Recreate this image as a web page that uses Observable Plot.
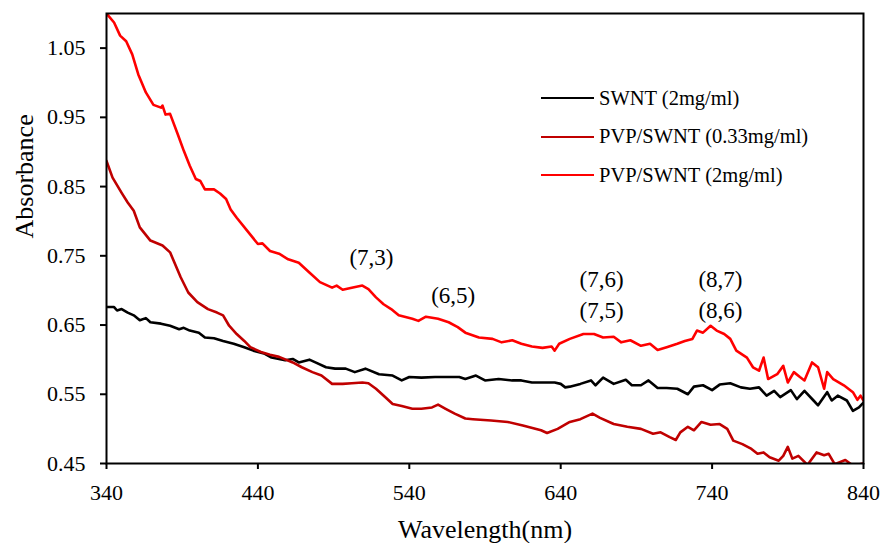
<!DOCTYPE html>
<html>
<head>
<meta charset="utf-8">
<script src="https://cdn.jsdelivr.net/npm/d3@7"></script>
<script src="https://cdn.jsdelivr.net/npm/@observablehq/plot@0.6"></script>
<style>
  html, body { margin: 0; padding: 0; background: #fff; }
  #wrap { position: relative; width: 884px; height: 543px; font-family: "Liberation Serif", "Times New Roman", serif; }
  #legend { position: absolute; left: 541px; top: 79px; }
  .row { display: flex; align-items: center; height: 38.5px; font-size: 20.5px; color: #000; white-space: nowrap; }
  .sw { width: 53px; height: 0; border-top: 2.5px solid; margin-right: 5px; }
</style>
</head>
<body>
<div id="wrap"></div>
<script>
// ---- data ----
const seriesNames = ["SWNT (2mg/ml)", "PVP/SWNT (0.33mg/ml)", "PVP/SWNT (2mg/ml)"];
const seriesColors = ["#000000", "#c00000", "#ff0000"];

const swntX = [340,345,347,350,354,358,362,366,369,376,382,388,391,395,401,405,411,417,424,431,437,444,449,458,463,467,474,478,485,491,498,504,511,520,529,535,540,548,557,566,573,577,584,590,599,608,614,621,630,636,640,643,646,653,660,663,668,675,683,687,693,698,704,710,717,724,728,734,740,745,752,759,765,771,776,781,785,792,796,801,807,810,816,819,823,829,833,837,840];
const swntY = [0.676,0.676,0.671,0.673,0.668,0.664,0.657,0.660,0.654,0.652,0.649,0.644,0.646,0.642,0.639,0.632,0.631,0.627,0.623,0.618,0.613,0.609,0.603,0.599,0.601,0.596,0.600,0.596,0.589,0.587,0.587,0.582,0.587,0.579,0.577,0.570,0.575,0.574,0.575,0.575,0.575,0.572,0.577,0.570,0.572,0.570,0.570,0.567,0.567,0.567,0.565,0.560,0.561,0.565,0.570,0.563,0.574,0.565,0.571,0.563,0.563,0.570,0.559,0.559,0.558,0.550,0.561,0.563,0.556,0.564,0.566,0.560,0.558,0.560,0.548,0.555,0.546,0.556,0.543,0.555,0.541,0.534,0.553,0.541,0.548,0.541,0.526,0.531,0.538];

const pvpLowX = [340,344,350,354,358,362,369,377,382,389,394,400,407,413,417,421,426,431,435,442,448,454,463,469,476,482,489,496,502,509,513,518,524,529,535,542,548,555,559,564,570,577,582,594,605,615,627,631,638,646,653,661,666,675,684,693,701,706,712,716,719,724,728,733,739,745,750,754,760,766,770,774,778,784,787,790,793,797,803,809,814,817,821,828,833,840];
const pvpLowY = [0.887,0.863,0.841,0.827,0.815,0.791,0.772,0.765,0.755,0.719,0.697,0.683,0.673,0.668,0.664,0.649,0.637,0.627,0.618,0.611,0.607,0.604,0.596,0.589,0.582,0.577,0.565,0.565,0.566,0.567,0.566,0.558,0.546,0.536,0.533,0.529,0.529,0.531,0.535,0.529,0.522,0.515,0.514,0.512,0.510,0.505,0.498,0.494,0.500,0.510,0.514,0.522,0.516,0.507,0.503,0.500,0.493,0.495,0.488,0.484,0.495,0.503,0.498,0.510,0.506,0.507,0.500,0.483,0.478,0.471,0.464,0.466,0.459,0.454,0.461,0.474,0.457,0.461,0.448,0.466,0.462,0.464,0.449,0.455,0.447,0.450];

const pvpHighX = [340,345,349,353,357,361,366,371,376,377,379,382,387,391,395,399,402,405,411,415,419,422,426,433,440,443,448,454,460,467,474,481,489,492,496,502,509,513,518,523,528,533,542,546,551,559,566,572,577,586,595,601,608,614,621,628,634,636,639,646,655,662,668,675,680,686,693,699,704,710,717,722,727,730,734,739,743,748,752,756,763,767,771,774,777,783,787,790,794,798,801,806,810,814,816,820,827,833,836,838,840];
const pvpHighY = [1.100,1.087,1.068,1.060,1.041,1.012,0.986,0.968,0.964,0.967,0.954,0.955,0.926,0.902,0.880,0.861,0.858,0.846,0.846,0.840,0.832,0.817,0.805,0.786,0.767,0.768,0.757,0.753,0.745,0.740,0.726,0.712,0.704,0.707,0.701,0.704,0.707,0.702,0.690,0.680,0.673,0.664,0.659,0.656,0.662,0.659,0.654,0.647,0.639,0.632,0.630,0.625,0.628,0.623,0.619,0.617,0.619,0.613,0.623,0.630,0.637,0.637,0.632,0.633,0.625,0.628,0.620,0.623,0.614,0.618,0.623,0.627,0.630,0.642,0.639,0.649,0.642,0.637,0.630,0.613,0.603,0.589,0.584,0.603,0.572,0.579,0.591,0.567,0.582,0.575,0.570,0.596,0.589,0.558,0.582,0.572,0.563,0.553,0.542,0.548,0.541];

const xTicks = [340, 440, 540, 640, 740, 840];
const yTicks = [0.45, 0.55, 0.65, 0.75, 0.85, 0.95, 1.05];

const annoText = ["(7,3)", "(6,5)", "(7,6)", "(7,5)", "(8,7)", "(8,6)"];
const annoX = [515, 569, 667, 667, 745.5, 745.5];
const annoY = [0.748, 0.692, 0.716, 0.671, 0.716, 0.671];

// ---- build tables ----
const xs = [swntX, pvpLowX, pvpHighX];
const ys = [swntY, pvpLowY, pvpHighY];
const data = [];
xs.forEach((xarr, s) => xarr.forEach((x, i) => data.push({series: seriesNames[s], x, y: ys[s][i]})));
const annos = annoText.map((t, i) => ({t, x: annoX[i], y: annoY[i]}));

const chart = Plot.plot({
  width: 884,
  height: 543,
  marginLeft: 106,
  marginRight: 21,
  marginTop: 13,
  marginBottom: 80,
  style: {fontFamily: '"Liberation Serif", "Times New Roman", serif', fontSize: "22px", color: "#000", background: "#fff", overflow: "visible"},
  x: {domain: [340, 840]},
  y: {domain: [0.45, 1.10]},
  color: {domain: seriesNames, range: seriesColors},
  marks: [
    Plot.line(data, {x: "x", y: "y", z: "series", stroke: "series", strokeWidth: 2.6, clip: true, curve: "linear"}),
    Plot.text(annos, {x: "x", y: "y", text: "t", fontSize: 23, fill: "#000", lineAnchor: "middle"}),
    Plot.frame({stroke: "#000", strokeWidth: 2}),
    Plot.axisX({ticks: xTicks, tickFormat: d => String(d), tickSize: 6, tickPadding: 15, strokeWidth: 2, label: null, fontSize: 22}),
    Plot.axisY({ticks: yTicks, tickFormat: d => d.toFixed(2), tickSize: 6, tickPadding: 15, strokeWidth: 2, label: null, fontSize: 22}),
    Plot.text(["Wavelength(nm)"], {frameAnchor: "bottom", dy: 66, fontSize: 26, lineAnchor: "middle", fill: "#000"}),
    Plot.text(["Absorbance"], {frameAnchor: "left", dx: -82, rotate: -90, fontSize: 26, lineAnchor: "middle", fill: "#000"})
  ]
});

const wrap = document.getElementById("wrap");
wrap.appendChild(chart);

const legend = document.createElement("div");
legend.id = "legend";
seriesNames.forEach((name, i) => {
  const row = document.createElement("div");
  row.className = "row";
  const sw = document.createElement("div");
  sw.className = "sw";
  sw.style.borderTopColor = seriesColors[i];
  const lab = document.createElement("span");
  lab.textContent = name;
  row.appendChild(sw);
  row.appendChild(lab);
  legend.appendChild(row);
});
wrap.appendChild(legend);
</script>
</body>
</html>
